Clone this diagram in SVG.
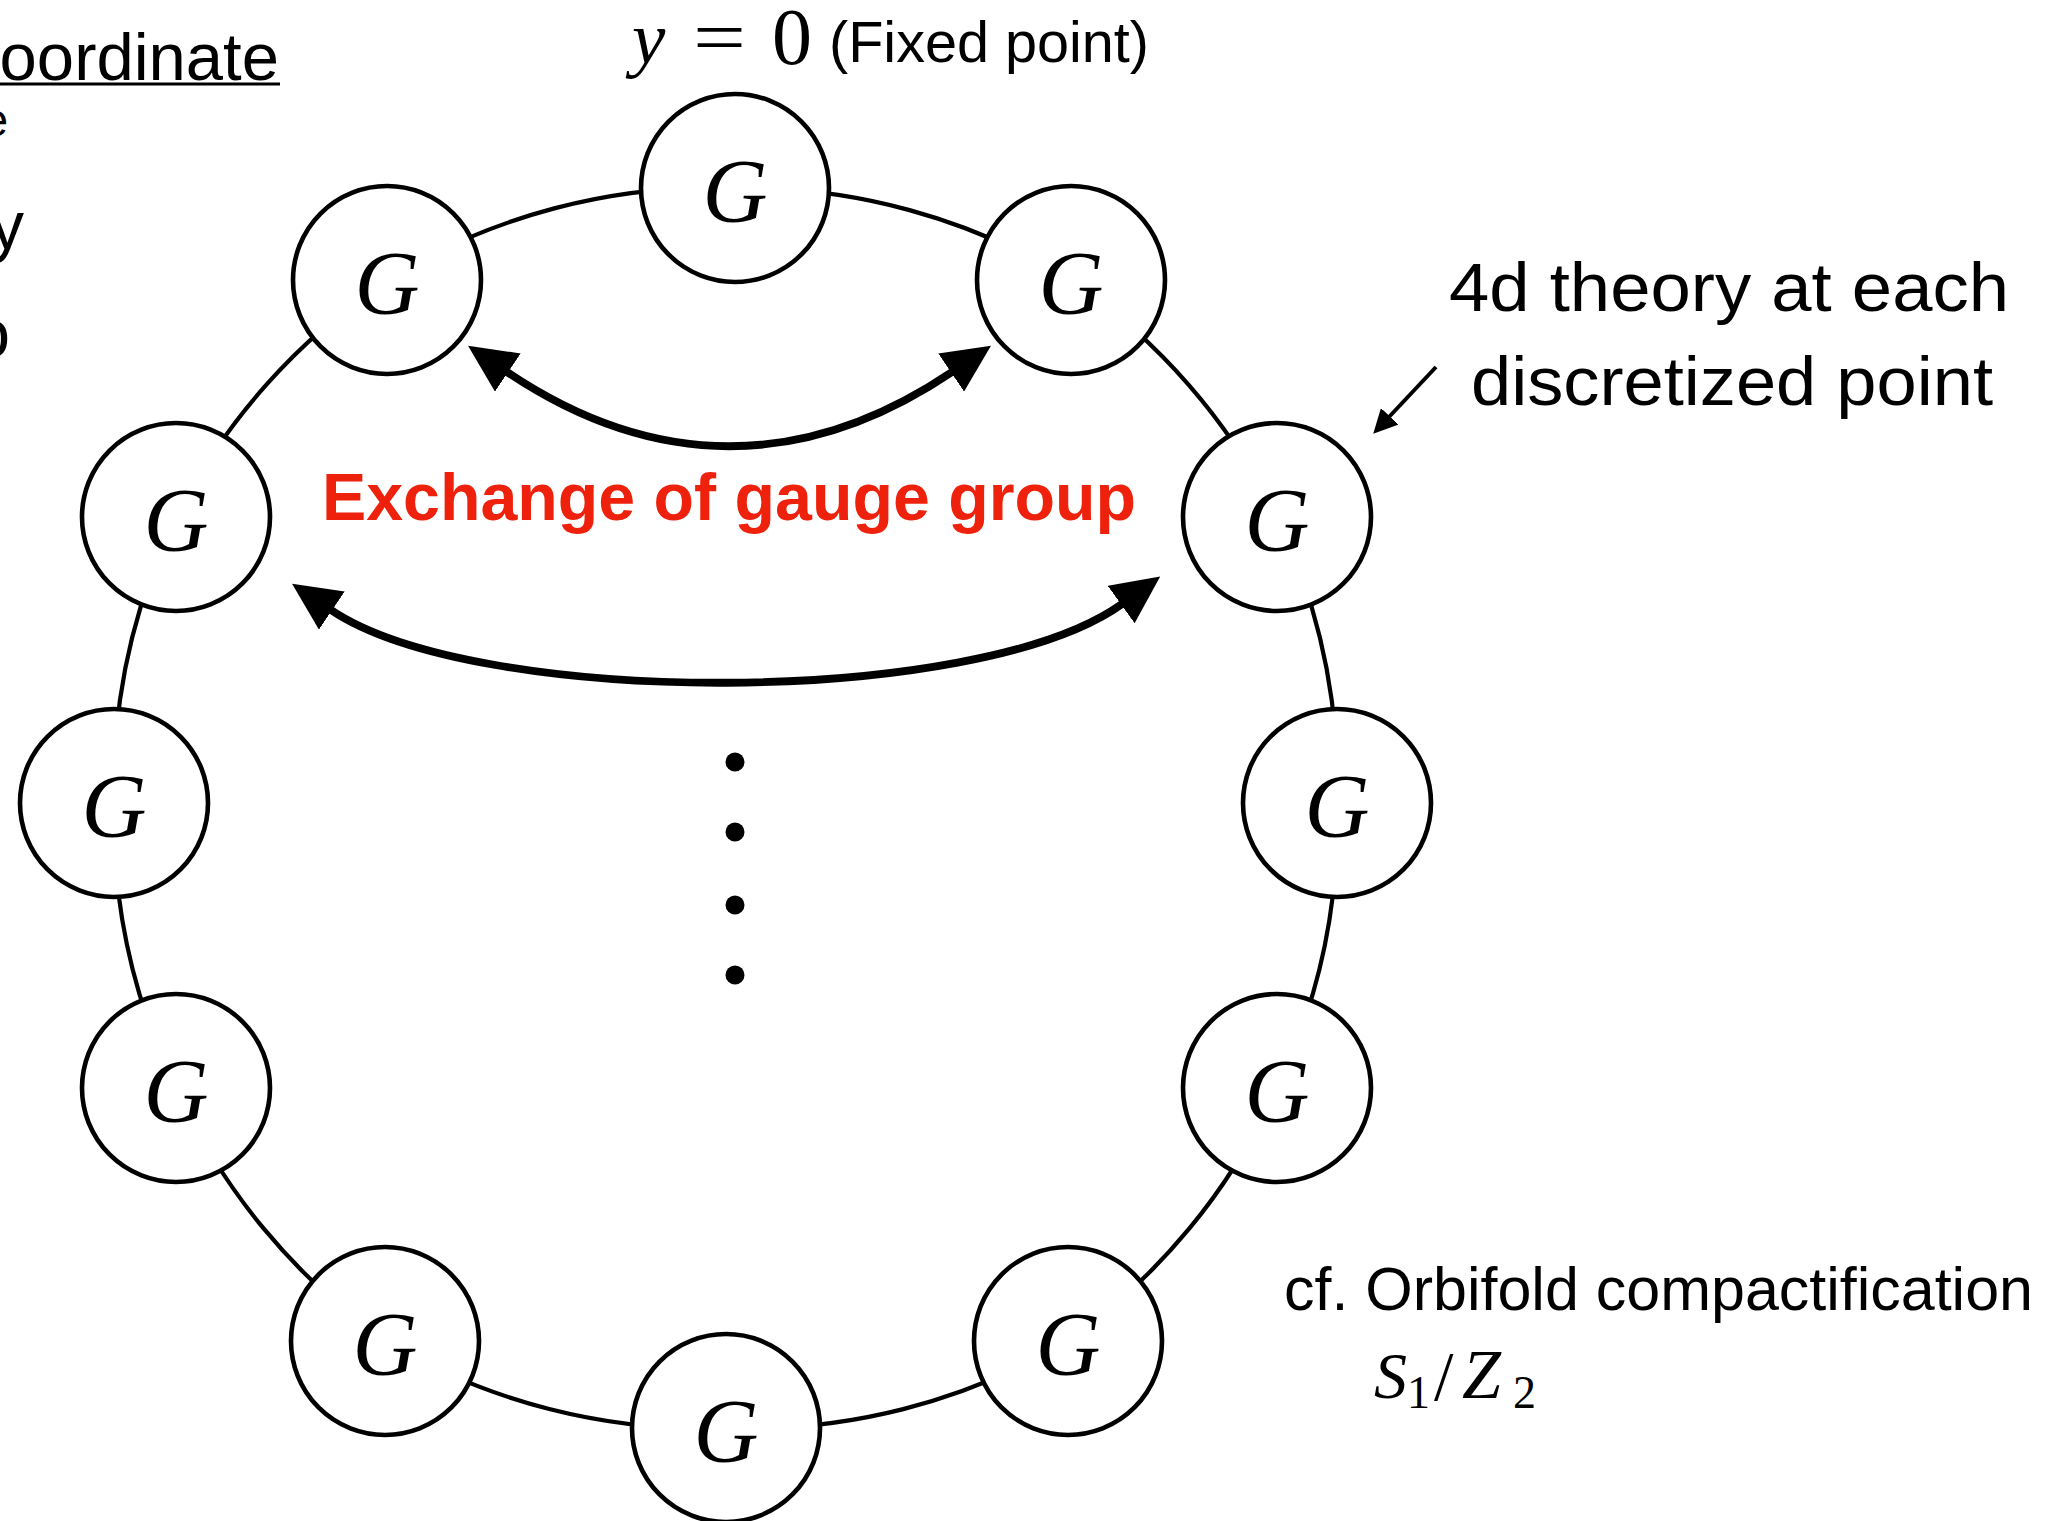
<svg xmlns="http://www.w3.org/2000/svg" width="2058" height="1521" viewBox="0 0 2058 1521">
  <style>
    .node circle { fill: #ffffff; stroke: #000000; stroke-width: 4.6; }
    .node text { font-family: "Liberation Serif", "DejaVu Serif", serif; font-style: italic; font-size: 90px; fill: #000; text-anchor: middle; }
    .ring path { fill: none; stroke: #000; stroke-width: 4.2; }
    .exch { fill: none; stroke: #000; stroke-width: 7.8; }
    .sans { font-family: "Liberation Sans", Arial, "Noto Sans", sans-serif; fill: #000; }
    .serif { font-family: "Liberation Serif", "DejaVu Serif", serif; fill: #000; }
    .red { font-family: "Liberation Sans", Arial, sans-serif; font-weight: bold; font-size: 66px; fill: #EE220C; }
  </style>
  <defs>
    <marker id="bigHead" markerUnits="userSpaceOnUse" viewBox="0 0 48 46" refX="1" refY="23" markerWidth="48" markerHeight="46" orient="auto-start-reverse">
      <path d="M0,0 L48,23 L0,46 Z" fill="#000"/>
    </marker>
    <marker id="smallHead" markerUnits="userSpaceOnUse" viewBox="0 0 24 24" refX="1" refY="12" markerWidth="24" markerHeight="24" orient="auto">
      <path d="M0,0 L24,12 L0,24 Z" fill="#000"/>
    </marker>
  </defs>
  <rect width="2058" height="1521" fill="#ffffff"/>

  <!-- left cut-off text -->
  <g id="left-text" class="sans">
    <text x="279" y="80" font-size="67" text-anchor="end">oordinate</text>
    <line x1="0" y1="84" x2="280" y2="84" stroke="#000" stroke-width="3"/>
    <text x="8" y="136" font-size="46" text-anchor="end">e</text>
    <text x="24" y="249" font-size="68" text-anchor="end">y</text>
    <text x="10" y="357" font-size="68" text-anchor="end">o</text>
  </g>

  <!-- connectors -->
  <g id="connectors">
    <g class="ring">
      <path d="M735,188 A625,625 0 0 1 1071,280"/>
      <path d="M1071,280 A625,625 0 0 1 1277,517"/>
      <path d="M1277,517 A625,625 0 0 1 1337,803"/>
      <path d="M1337,803 A625,625 0 0 1 1277,1088"/>
      <path d="M1277,1088 A625,625 0 0 1 1068,1341"/>
      <path d="M1068,1341 A625,625 0 0 1 726,1428"/>
      <path d="M726,1428 A625,625 0 0 1 385,1341"/>
      <path d="M385,1341 A625,625 0 0 1 176,1088"/>
      <path d="M176,1088 A625,625 0 0 1 114,803"/>
      <path d="M114,803 A625,625 0 0 1 176,517"/>
      <path d="M176,517 A625,625 0 0 1 387,280"/>
      <path d="M387,280 A625,625 0 0 1 735,188"/>
    </g>
    <path class="exch" d="M507,372 C654,471 805,471 952,372" marker-start="url(#bigHead)" marker-end="url(#bigHead)"/>
    <path class="exch" d="M331,610 C476,708 977,708 1122,604" marker-start="url(#bigHead)" marker-end="url(#bigHead)"/>
    <path d="M1436,367 L1389,417" fill="none" stroke="#000" stroke-width="4" marker-end="url(#smallHead)"/>
  </g>

  <!-- nodes -->
  <g id="nodes">
    <g id="n-top" class="node"><circle cx="735" cy="188" r="94"/><text x="735" y="222">G</text></g>
    <g id="n-tr" class="node"><circle cx="1071" cy="280" r="94"/><text x="1071" y="314">G</text></g>
    <g id="n-ru" class="node"><circle cx="1277" cy="517" r="94"/><text x="1277" y="551">G</text></g>
    <g id="n-rm" class="node"><circle cx="1337" cy="803" r="94"/><text x="1337" y="837">G</text></g>
    <g id="n-rl" class="node"><circle cx="1277" cy="1088" r="94"/><text x="1277" y="1122">G</text></g>
    <g id="n-br" class="node"><circle cx="1068" cy="1341" r="94"/><text x="1068" y="1375">G</text></g>
    <g id="n-b" class="node"><circle cx="726" cy="1428" r="94"/><text x="726" y="1462">G</text></g>
    <g id="n-bl" class="node"><circle cx="385" cy="1341" r="94"/><text x="385" y="1375">G</text></g>
    <g id="n-ll" class="node"><circle cx="176" cy="1088" r="94"/><text x="176" y="1122">G</text></g>
    <g id="n-lm" class="node"><circle cx="114" cy="803" r="94"/><text x="114" y="837">G</text></g>
    <g id="n-lu" class="node"><circle cx="176" cy="517" r="94"/><text x="176" y="551">G</text></g>
    <g id="n-tl" class="node"><circle cx="387" cy="280" r="94"/><text x="387" y="314">G</text></g>
  </g>

  <!-- dots -->
  <g id="dots" fill="#000">
    <circle cx="735" cy="762" r="9.5"/>
    <circle cx="735" cy="832" r="9.5"/>
    <circle cx="735" cy="905" r="9.5"/>
    <circle cx="735" cy="975" r="9.5"/>
  </g>

  <!-- labels -->
  <g id="label-fixed">
    <text class="serif" x="632" y="63" font-size="75" font-style="italic">y</text>
    <text class="serif" x="693" y="63" font-size="76" textLength="53" lengthAdjust="spacingAndGlyphs">=</text>
    <text class="serif" x="772" y="64" font-size="80">0</text>
    <text class="sans" x="829" y="62" font-size="58" textLength="320" lengthAdjust="spacingAndGlyphs">(Fixed point)</text>
  </g>
  <g id="label-exchange">
    <text class="red" x="322" y="520" textLength="814" lengthAdjust="spacingAndGlyphs">Exchange of gauge group</text>
  </g>
  <g id="label-4d" class="sans">
    <text x="1449" y="311" font-size="68" textLength="560" lengthAdjust="spacingAndGlyphs">4d theory at each</text>
    <text x="1471" y="405" font-size="68" textLength="522" lengthAdjust="spacingAndGlyphs">discretized point</text>
  </g>
  <g id="label-orbifold">
    <text class="sans" x="1284" y="1310" font-size="61" textLength="749" lengthAdjust="spacingAndGlyphs">cf. Orbifold compactification</text>
    <text class="serif" x="1374" y="1398" font-size="66" font-style="italic">S</text>
    <text class="serif" x="1407" y="1408" font-size="46">1</text>
    <text class="serif" x="1434" y="1400" font-size="70">/</text>
    <text class="serif" x="1462" y="1398" font-size="70" font-style="italic">Z</text>
    <text class="serif" x="1513" y="1408" font-size="46">2</text>
  </g>
</svg>
